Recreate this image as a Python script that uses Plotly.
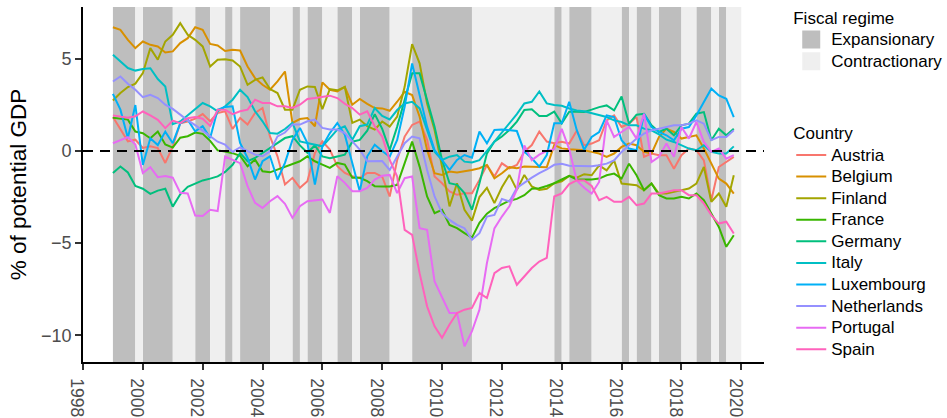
import plotly.graph_objects as go

# ---------------- data ----------------
quarters = [f"{y}Q{q}" for y in range(1999, 2020) for q in range(1, 5)]

# Fiscal regime per quarter (E = expansionary, C = contractionary)
regime = list(
    "EEEC" "EEEE" "CCCE" "ECCE" "CEEE" "ECCC" "ECEE" "CCEE" "CEEE" "ECCC"
    "EEEE" "EEEE" "CCCC" "CCCC" "CCCE" "CEEE" "CCCC" "ECEE" "CEEE" "CCEE" "CECC"
)

countries = ["Austria", "Belgium", "Finland", "France", "Germany", "Italy",
             "Luxembourg", "Netherlands", "Portugal", "Spain"]

austria = [1.84, 1.16, 0.52, 0.61, 0.16, 0.25, 0.16, -0.65, 0.25, 1.50, 1.60, 1.75, 2.00,
           1.61, 2.06, 2.15, 1.19, 1.79, 1.43, 2.06, 2.33, 0.79, -0.29, -1.82, -1.46,
           -2.00, -1.64, -0.11, 0.52, 0.07, -0.83, -1.19, -1.37, -1.46, -1.19, -1.19,
           -1.40, -2.47, -0.49, 0.78, 1.41, 1.59, 0.60, -1.39, -1.75, -2.20, -2.38, -2.29,
           -2.29, -1.57, -0.76, -1.39, -0.67, -0.94, -0.76, -0.04, 0.32, 1.05, 0.51, 0.42,
           0.50, 0.40, 1.10,
           0.30, 0.40, 0.58, 1.66, 1.93, 1.30, 1.48, 1.84, -0.32, -0.14, -0.23, -0.23,
           -0.96, -0.23, 0.13, 0.04, -0.51, -2.67, -0.87, -0.60, -0.32]
belgium = [6.71, 6.57, 6.03, 5.58, 5.94, 5.76, 5.67, 5.34, 5.40, 5.85, 6.12, 6.71, 6.57,
           5.81, 5.72, 5.42, 5.49, 5.45, 4.58, 3.95, 3.59, 3.32, 3.77, 4.31, 1.52,
           1.73, 1.79, 1.34, 3.72, 3.32, 3.23, 3.47, 2.51, 2.82, 2.56, 2.33,
           2.31, 2.18, 2.67, 3.21, 3.03, 1.86, 0.05, -1.21, -1.30, -1.12, -1.17, -1.12,
           -1.03, -0.94, -0.76, -1.48, -1.21, -0.88, -0.94, -0.85, -0.85, -0.85, -0.88, 0.32,
           0.14, 0.09, 0.05,
           0.04, -0.05, -0.14, -0.32, -0.14, 0.22, 0.40, 0.31, -0.05, -0.14, 0.76, 1.21,
           1.03, 0.67, 0.76, 0.85, 0.13, -0.69, -1.50, -1.77, -2.31]
finland = [2.74, 3.14, 3.47, 3.65, 4.22, 5.58, 4.95, 5.94, 6.30, 6.93, 6.30, 6.03, 5.67,
           4.58, 4.95, 4.98, 4.91, 4.58, 3.59, 3.86, 3.99, 3.36, 3.14, 2.24, 2.24,
           3.32, 3.50, 3.47, 2.27, 3.36, 3.29, 3.47, 1.52, 1.70, 1.34, 1.16,
           1.60, 1.32, 1.86, 3.48, 5.79, 4.75, 2.58, 1.14, -0.85, -3.01, -1.75, -3.19,
           -3.78, -2.50, -2.00, -2.83, -1.97, -1.30, -2.11, -1.30, -1.93, -2.11, -2.05, -1.75,
           -1.65, -1.35, -1.45,
           -1.26, -1.32, -0.78, -1.05, -0.51, -1.77, -1.81, -1.86, -2.13, -1.77, -2.31, -2.31,
           -2.22, -2.13, -2.04, -1.77, -0.87, -2.76, -2.31, -3.03, -1.32]
france = [1.80, 1.75, 1.70, 1.05, 0.96, 0.69, 1.05, 0.35, 0.18, 0.72, 0.80, 1.00, 0.93,
          0.55, 0.03, -0.03, -0.12, -0.26, -0.83, -0.47, -1.10, -1.16, -1.01, -0.83, -0.70,
          -0.56, -0.29, -0.56, -0.74, -0.92, -0.65, -0.74, -1.46, -1.46, -1.64, -1.91,
          -1.93, -1.93, -1.84, -0.67, 0.51, -0.85, -2.47, -3.38, -3.19, -4.01, -4.19, -4.46,
          -4.70, -3.90, -3.40, -3.10, -2.90, -2.70, -2.60, -2.40, -2.05, -2.02, -1.90, -1.75,
          -1.55, -1.35, -1.55,
          -1.55, -1.55, -1.50, -1.32, -1.23, -1.50, -0.69, -1.32, -2.13, -1.77, -2.40, -2.58,
          -2.58, -2.49, -2.58, -2.31, -2.67, -3.39, -4.12, -5.20, -4.57]
germany = [-1.20, -0.84, -1.17, -1.90, -2.05, -2.33, -2.15, -2.05, -3.02, -2.35, -1.95, -1.78, -1.60,
           -1.50, -1.38, -1.14, -0.75, -0.12, -0.56, -0.38, -0.11, 0.16, 0.43, 0.70, 0.80,
           0.30, -0.10, 0.30, -0.30, -0.40, -0.30, -0.20, 0.50, 0.60, 1.10, 2.00,
           1.20, 0.05, 1.32, 2.76, 4.21, 4.21, 2.76, 1.32, -0.49, -1.75, -1.84, -2.29,
           -3.19, -1.75, -0.13, 0.51, 0.78, 1.14, 1.59, 2.22, 2.26, 1.90, 1.90, 2.13,
           1.50, 2.13, 2.13,
           2.11, 2.24, 2.38, 2.47, 2.20, 2.96, 1.48, 1.97, 2.02, 1.39, 1.03, 1.21,
           0.85, 1.39, 1.48, 2.02, 2.11, 0.58, 1.21, 0.85, 1.21]
italy = [5.22, 4.85, 4.50, 4.36, 4.45, 4.49, 3.90, 3.50, 1.45, 1.60, 1.95, 2.30, 2.60,
         2.42, 2.15, 2.42, 2.78, 3.32, 2.92, 2.15, 1.61, 0.97, 0.94, 1.19, 1.52,
         0.52, 0.43, 0.34, 0.25, 0.70, 1.16, 1.34, 0.61, 1.34, 1.43, 2.33,
         1.90, 1.71, 2.22, 2.58, 2.67, 2.31, 1.14, -0.04, -0.49, -0.31, -0.22, -0.58,
         -0.62, -0.50, 0.00, 0.50, 0.96, 1.50, 2.00, 2.58, 2.67, 3.23, 2.58, 2.49,
         2.45, 2.30, 2.20,
         2.15, 2.06, 1.93, 1.84, 1.66, 1.57, 1.39, 1.39, 1.21, 1.12, 0.90, 0.61,
         0.49, 0.31, 0.13, 0.04, 0.31, -0.05, -0.14, -0.14, 0.25]
luxembourg = [3.10, 2.24, 0.70, 2.49, -0.76, 0.69, 0.32, 1.05, 0.42, 1.50, 1.70, 1.06, 1.34,
              0.70, 2.24, 2.38, 2.42, 0.43, -0.38, -1.55, -0.56, -0.29, -1.55, -0.65, 0.60,
              1.25, 0.43, -1.82, 0.25, 0.97, 1.52, 0.88, -0.65, -2.18, -0.29, 0.34,
              0.00, -0.31, 0.60, 2.40, 4.75, 3.03, 1.32, 0.05, -0.49, -1.03, -0.49, -0.22,
              -0.36, 1.05, 0.42, 1.14, 1.17, 1.14, 1.08, -0.04, -0.40, -0.85, -0.22, 1.50,
              1.50, 2.67, 1.14,
              0.06, 0.76, 1.03, 1.93, 1.84, 0.58, 0.13, 0.04, 2.02, 1.30, 1.03, 0.85,
              0.58, 1.21, 1.30, 1.93, 2.65, 3.38, 3.01, 2.83, 1.84]
netherlands = [3.77, 4.04, 3.65, 3.32, 2.92, 3.05, 2.87, 2.51, 2.28, 1.95, 1.66, 1.40, 1.10,
               0.80, 0.50, 0.34, -0.05, 0.20, -0.02, -0.20, -0.29, -0.02, 0.79, 1.00, 1.43,
               1.43, 1.61, 1.70, 1.25, 1.16, 1.16, 0.97, 0.52, 0.07, -0.56, -0.56,
               -0.55, -1.03, -0.31, 0.42, 0.78, 0.69, -1.03, -2.47, -3.38, -3.74, -4.01, -4.19,
               -4.82, -4.46, -3.56, -3.47, -2.60, -2.74, -2.00, -1.70, -1.45, -1.20, -1.00, -0.75,
               -0.70, -0.80, -0.80,
               -0.83, -0.83, -0.78, -0.69, -0.51, -0.05, 0.31, 0.67, 0.94, 1.12, 1.21, 1.30,
               1.39, 1.39, 1.48, 1.66, 1.48, 0.58, 0.76, 0.76, 1.12]
portugal = [0.42, 0.60, 0.75, 0.35, -1.20, -0.88, -1.42, -1.36, -1.45, -2.27, -2.31, -3.50, -3.53,
            -3.19, -3.26, -0.30, -0.48, -0.66, -1.91, -2.82, -3.09, -2.73, -2.45, -2.87, -3.63,
            -3.00, -2.73, -2.67, -2.64, -3.36, -1.37, -1.73, -2.18, -2.18, -2.00, -1.55,
            -1.35, -1.30, -2.29, -1.48, -1.39, -4.19, -4.28, -7.08, -7.89, -8.79, -8.79, -10.60,
            -9.78, -8.61, -6.08, -4.20, -3.56, -3.00, -2.10, 0.30, -0.50, -0.20, 0.00, 0.10,
            1.20, 0.10, -1.60,
            -2.00, -2.31, -1.68, 1.66, 0.76, 1.03, 1.30, 0.67, 2.02, -0.60, -0.32, 0.40,
            -0.32, 1.30, 0.67, 1.57, 0.49, -0.05, 0.13, -0.42, -0.23]
spain = [1.93, 1.88, 1.80, 1.88, 2.14, 1.93, 1.69, 1.24, 1.65, 1.51, 1.78, 1.84, 1.75,
         1.36, 2.23, 2.23, 2.00, 2.15, 2.24, 2.78, 2.60, 2.60, 2.42, 2.42, 2.33,
         2.51, 2.82, 2.87, 2.92, 3.00, 2.87, 2.56, 2.33, 1.97, 2.15, 1.34,
         0.78, -0.49, -1.39, -4.28, -4.55, -6.63, -8.43, -9.51, -10.14, -9.42, -8.79, -8.61,
         -8.52, -7.71, -7.98, -6.63, -6.35, -6.26, -7.26, -6.81, -6.35, -6.00, -5.80, -2.47,
         -2.30, -1.80, -1.60,
         -1.60, -1.90, -2.67, -2.49, -2.76, -2.76, -2.49, -2.94, -2.85, -2.31, -2.31, -2.22,
         -2.13, -2.13, -2.40, -2.40, -2.85, -3.48, -3.94, -3.84, -4.48]

series = [austria, belgium, finland, france, germany, italy,
          luxembourg, netherlands, portugal, spain]

year_ticks = list(range(1998, 2021, 2))
y_ticks = [-10, -5, 0, 5]

# ---------------- styling ----------------
colors = ["#F8766D", "#D89000", "#A3A500", "#39B600", "#00BF7D", "#00BFC4",
          "#00B0F6", "#9590FF", "#E76BF3", "#FF62BC"]
regime_styles = [("Expansionary", "E", "#BEBEBE"), ("Contractionary", "C", "#EFEFEF")]
FONT = "Liberation Sans, Arial, Helvetica, sans-serif"
YMIN, YMAX = -11.45, 7.81
XMIN, XMAX = 1998, 2020.76
LEG_TXT = '<span style="font-size:17px">{}</span>'


def qdate(q):
    y, n = q.split("Q")
    return int(y) + (int(n) - 1) / 4.0


xq = [qdate(q) for q in quarters]
n = len(xq)

fig = go.Figure()

# shaded fiscal regimes (one bar per run of consecutive quarters)
for label, code, color in regime_styles:
    centers, widths = [], []
    i = 0
    while i < n:
        if regime[i] == code:
            j = i
            while j < n and regime[j] == code:
                j += 1
            start, end = xq[i], xq[j - 1] + 0.25
            centers.append((start + end) / 2)
            widths.append(end - start)
            i = j
        else:
            i += 1
    fig.add_trace(go.Bar(
        x=centers, y=[YMAX - YMIN] * len(centers), base=YMIN, width=widths,
        marker=dict(color=color, line=dict(width=0)),
        showlegend=False, legendgroup=label, hoverinfo="skip"))
    fig.add_trace(go.Scatter(
        x=[None], y=[None], mode="markers", name=LEG_TXT.format(label), legend="legend",
        legendgroup=label,
        marker=dict(symbol="square", size=16, color=color, line=dict(color=color, width=2))))

for name, vals, col in zip(countries, series, colors):
    fig.add_trace(go.Scatter(
        x=xq, y=vals, mode="lines", name=LEG_TXT.format(name), legend="legend2",
        line=dict(color=col, width=2), hoverinfo="skip"))

fig.add_hline(y=0, line=dict(color="black", width=2, dash="10px,7px"))

fig.update_layout(
    width=947, height=418,
    margin=dict(l=83, r=183, t=7, b=56, autoexpand=False),
    paper_bgcolor="white", plot_bgcolor="white",
    barmode="overlay",
    font=dict(family=FONT, color="black"),
    showlegend=True,
    legend=dict(
        title=dict(text="Fiscal regime", font=dict(size=17, color="black")),
        font=dict(size=14.3, color="black"),
        x=1.04, xanchor="left", y=1.015, yanchor="top",
        bgcolor="rgba(0,0,0,0)", itemclick=False, itemdoubleclick=False,
        tracegroupgap=0),
    legend2=dict(
        title=dict(text="Country", font=dict(size=17, color="black")),
        font=dict(size=14.3, color="black"),
        x=1.04, xanchor="left", y=0.69, yanchor="top",
        bgcolor="rgba(0,0,0,0)", itemclick=False, itemdoubleclick=False,
        tracegroupgap=0),
    xaxis=dict(
        range=[XMIN, XMAX], tickmode="array", tickvals=year_ticks,
        ticktext=[str(v) for v in year_ticks],
        tickangle=90, ticks="outside", ticklen=6, tickwidth=1.5, tickcolor="#333333",
        tickfont=dict(size=17.5, color="#4D4D4D"), ticklabelshift=-6, ticklabelstandoff=5,
        showline=True, linecolor="black", linewidth=1.6, automargin=False,
        showgrid=False, zeroline=False),
    yaxis=dict(
        range=[YMIN, YMAX], tickmode="array", tickvals=y_ticks,
        ticks="outside", ticklen=6, tickwidth=1.5, tickcolor="#333333",
        tickfont=dict(size=18, color="#4D4D4D"), automargin=False,
        showline=True, linecolor="black", linewidth=1.6,
        showgrid=False, zeroline=False,
        title=dict(text="% of potential GDP", font=dict(size=22.5, color="black"), standoff=8)),
)

fig.write_html("out.html", config={"displayModeBar": False},
               post_script="document.body.style.margin='0px';")
